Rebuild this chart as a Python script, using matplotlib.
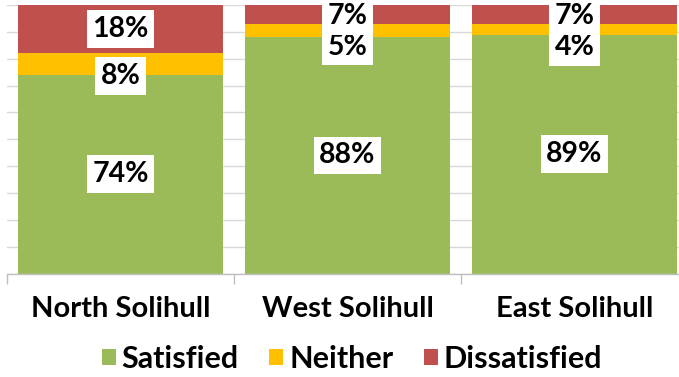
import matplotlib
matplotlib.use("Agg")
import matplotlib.pyplot as plt
import numpy as np
from matplotlib.patches import Patch

# ---------------------------------------------------------------------------
# Data
# ---------------------------------------------------------------------------
areas = ["North Solihull", "West Solihull", "East Solihull"]
satisfied = [74, 88, 89]
neither = [8, 5, 4]
dissatisfied = [18, 7, 7]
series_names = ["Satisfied", "Neither", "Dissatisfied"]

_C = {
    "green": "#9BBB59",
    "yellow": "#FFC000",
    "red": "#C0504D",
    "grid": "#D9D9D9",
    "axis": "#BFBFBF",
}

# label nudges in pixels (Excel pushes overlapping labels down)
label_shift = {
    "Satisfied": [0, 0, 0],
    "Neither": [-12, -16, -18],
    "Dissatisfied": [0, -2, -2],
}

plt.rcParams["font.family"] = ["Lato", "DejaVu Sans"]

fig = plt.figure(figsize=(6.79, 3.77), dpi=100)
ax = fig.add_axes([7 / 679, 1 - 273.5 / 377, 681 / 679, 268.5 / 377])

x = np.arange(len(areas))
width = 0.9
stacks = [satisfied, neither, dissatisfied]
colours = [_C["green"], _C["yellow"], _C["red"]]

bottom = np.zeros(len(areas))
for name, vals, col in zip(series_names, stacks, colours):
    vals = np.array(vals, dtype=float)
    ax.bar(x, vals, width, bottom=bottom, color=col, edgecolor="none",
           zorder=2)
    for xi, b, v, dy in zip(x, bottom, vals, label_shift[name]):
        ax.annotate(f"{v:.0f}%", (xi, b + v / 2), xytext=(0, dy),
                    textcoords="offset pixels", ha="center", va="center",
                    fontsize=20.5, fontweight="bold", color="black",
                    zorder=4,
                    bbox=dict(boxstyle="square,pad=0.2", fc="white",
                              ec="none"))
    bottom += vals

ax.set_xlim(-0.5, len(areas) - 0.5)
ax.set_ylim(0, 100)
ax.set_yticks(np.arange(0, 101, 10))
ax.yaxis.grid(True, color=_C["grid"], linewidth=1, zorder=0)
ax.tick_params(axis="y", left=False, labelleft=False)
ax.set_axisbelow(True)

for s in ["top", "right", "left"]:
    ax.spines[s].set_visible(False)
ax.spines["bottom"].set_color(_C["axis"])
ax.spines["bottom"].set_linewidth(1)

ax.set_xticks(x)
ax.set_xticklabels(areas, fontsize=21, fontweight="bold")
ax.tick_params(axis="x", length=0, pad=16)
ax.set_xticks(np.arange(-0.5, len(areas)), minor=True)
ax.tick_params(axis="x", which="minor", length=7, color=_C["axis"],
               width=1)

handles = [Patch(facecolor=c, edgecolor="none") for c in colours]
fig.legend(handles, series_names, loc="center", ncol=3,
           bbox_to_anchor=(352 / 679, 1 - 359 / 377), frameon=False,
           prop={"size": 22, "weight": "bold"}, handlelength=0.45,
           handleheight=0.45, handletextpad=0.2, columnspacing=1.0,
           borderpad=0)

fig.savefig("out.png", dpi=100)
plt.close(fig)
